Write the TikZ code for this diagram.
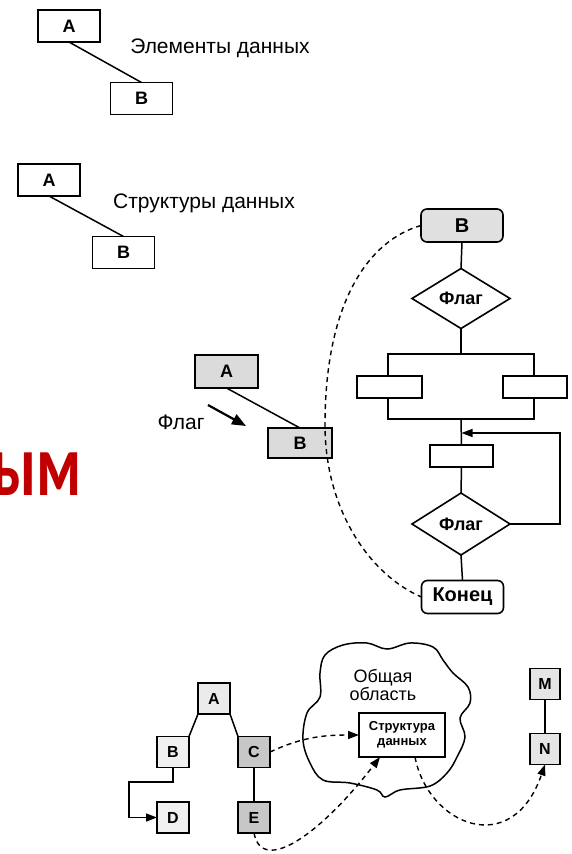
\documentclass[tikz,border=0pt]{standalone}
\usepackage{fontspec}
\setmainfont{Liberation Sans}
\newfontfamily\titlefont{Carlito}
\usetikzlibrary{arrows.meta,shapes.geometric,calc}

\definecolor{titlered}{HTML}{C00000}

\tikzset{
  every node/.style={inner sep=0pt, outer sep=0pt},
  databox/.style={draw, line width=1.6pt, minimum width=62pt, minimum height=32pt,
                  font=\fontsize{18}{20}\selectfont\bfseries},
  caption/.style={font=\fontsize{21}{23}\selectfont},
  flowbox/.style={draw, line width=1.6pt, fill=white},
  roundbox/.style={flowbox, rounded corners=6pt, minimum width=82pt, minimum height=33pt,
                   font=\fontsize{20}{22}\selectfont\bfseries},
  decision/.style={draw, diamond, line width=1.6pt, minimum width=98pt, minimum height=60pt,
                   font=\fontsize{18}{20}\selectfont\bfseries},
  smallbox/.style={draw, line width=1.6pt, minimum width=32pt, minimum height=31pt,
                   font=\fontsize{16}{18}\selectfont\bfseries},
  link/.style={line width=1.5pt},
  dashlink/.style={line width=1.4pt, dash pattern=on 5pt off 4pt},
  tip/.style={-{Triangle[length=11pt,width=8pt]}},
}

\begin{document}
\begin{tikzpicture}[x=1pt, y=-1pt]
\useasboundingbox (0,0) rectangle (571,854);

% ---- data elements ----
\node[databox] (e1a) at (69,26) {A};
\node[databox] (e1b) at (141.5,98.5) {B};
\draw[link] (e1a.south) -- (e1b.north);
\node[caption] (e1t) at (220,48) {Элементы данных};

% ---- data structures ----
\node[databox] (e2a) at (49,180) {A};
\node[databox] (e2b) at (123.5,252.5) {B};
\draw[link] (e2a.south) -- (e2b.north);
\node[caption] (e2t) at (204,203) {Структуры данных};

% ---- title fragment (runs off the left edge) ----
\node[anchor=base east, text=titlered, font=\titlefont\bfseries\fontsize{88}{90}\selectfont]
  (ttl) at (82,495) {\scalebox{0.72}[1]{ым}};

% ---- flag-driven record ----
\node[databox, fill=black!14, minimum width=63pt, minimum height=33pt] (ga) at (226.5,371.5) {A};
\node[databox, fill=black!14, minimum width=64pt, minimum height=30pt] (gb) at (300,443) {B};
\draw[link] (ga.south) -- (gb.north);
\node[caption] (gflag) at (181,422) {Флаг};
\coordinate (gfs) at (208,405);
\coordinate (gfe) at (246,426);
\draw[line width=2.2pt, -{Triangle[length=14pt,width=11pt]}] (gfs) -- (gfe);

% ---- flowchart ----
\node[roundbox, fill=black!12] (fb) at (462,225.5) {B};
\node[decision] (fd1) at (461,298.5) {Флаг};
\node[flowbox, minimum width=146pt, minimum height=65pt] (par) at (461,386.5) {};
\node[flowbox, minimum width=65pt, minimum height=22pt] (pl) at (389.5,387) {};
\node[flowbox, minimum width=64pt, minimum height=22pt] (pr) at (535,387) {};
\node[flowbox, minimum width=63pt, minimum height=22pt] (fbx) at (461.5,456) {};
\node[decision, minimum height=62pt] (fd2) at (461,524) {Флаг};
\node[roundbox] (fend) at (462.5,597) {Конец};
\coordinate (join) at (461.5,433);
\coordinate (loopc) at (560,433);

\draw[link] (fb.south) -- (fd1.north);
\draw[link] (fd1.south) -- (par.north);
\draw[link] (par.south) -- (fbx.north);
\draw[link] (fbx.south) -- (fd2.north);
\draw[link] (fd2.south) -- (fend.north);
\draw[link, tip] (fd2.east) -| (loopc) -- (join);

\draw[dashlink] (fb.west) .. controls (370,240) and (325,300) .. (325,425)
                .. controls (325,510) and (370,575) .. (fend.west);

% ---- shared area ----
\draw[line width=1.5pt] plot[smooth cycle, tension=0.6] coordinates {
  (320,673) (325,655) (343,645) (367,643) (387,649) (410,643) (433,647)
  (443,660) (453,673) (468,687) (470,703) (460,718) (465,737) (457,757)
  (447,773) (430,786) (400,790) (385,797) (377,790) (350,783) (323,780)
  (310,763) (303,740) (307,713) (320,697)};
\node[font=\fontsize{18}{20}\selectfont, align=center] (shared) at (383,685)
  {Общая\\[-2pt]область};
\node[draw, line width=1.6pt, fill=white, minimum width=86pt, minimum height=44pt,
      align=center, font=\fontsize{13}{15}\selectfont\bfseries] (sbox) at (402,735)
  {Структура\\данных};

% ---- tree ----
\node[smallbox, fill=black!8] (ta) at (214,698.5) {A};
\node[smallbox, fill=black!6] (tb) at (173,752) {B};
\node[smallbox, fill=black!22] (tc) at (254,752) {C};
\node[smallbox, fill=black!6] (td) at (173,817.5) {D};
\node[smallbox, fill=black!22] (te) at (254,817.5) {E};
\node[smallbox, fill=black!10, minimum width=30pt] (tm) at (545,684) {M};
\node[smallbox, fill=black!10, minimum width=30pt] (tn) at (545,749) {N};
\coordinate (bturn) at (129,782);

\draw[link] (ta.south west) -- (tb.north east);
\draw[link] (ta.south east) -- (tc.north west);
\draw[link] (tc.south) -- (te.north);
\draw[link] (tm.south) -- (tn.north);
\draw[link, tip] (tb.south) |- (bturn) |- (td.west);

\draw[dashlink, tip] (tc.east) to[out=25, in=180] (sbox.west);
\draw[dashlink, tip] (te.south) .. controls (262,875) and (320,835) .. ([xshift=-22pt]sbox.south);
\draw[dashlink, tip] ([xshift=13pt]sbox.south) .. controls (428,825) and (512,860) .. (tn.south);
\end{tikzpicture}
\end{document}
